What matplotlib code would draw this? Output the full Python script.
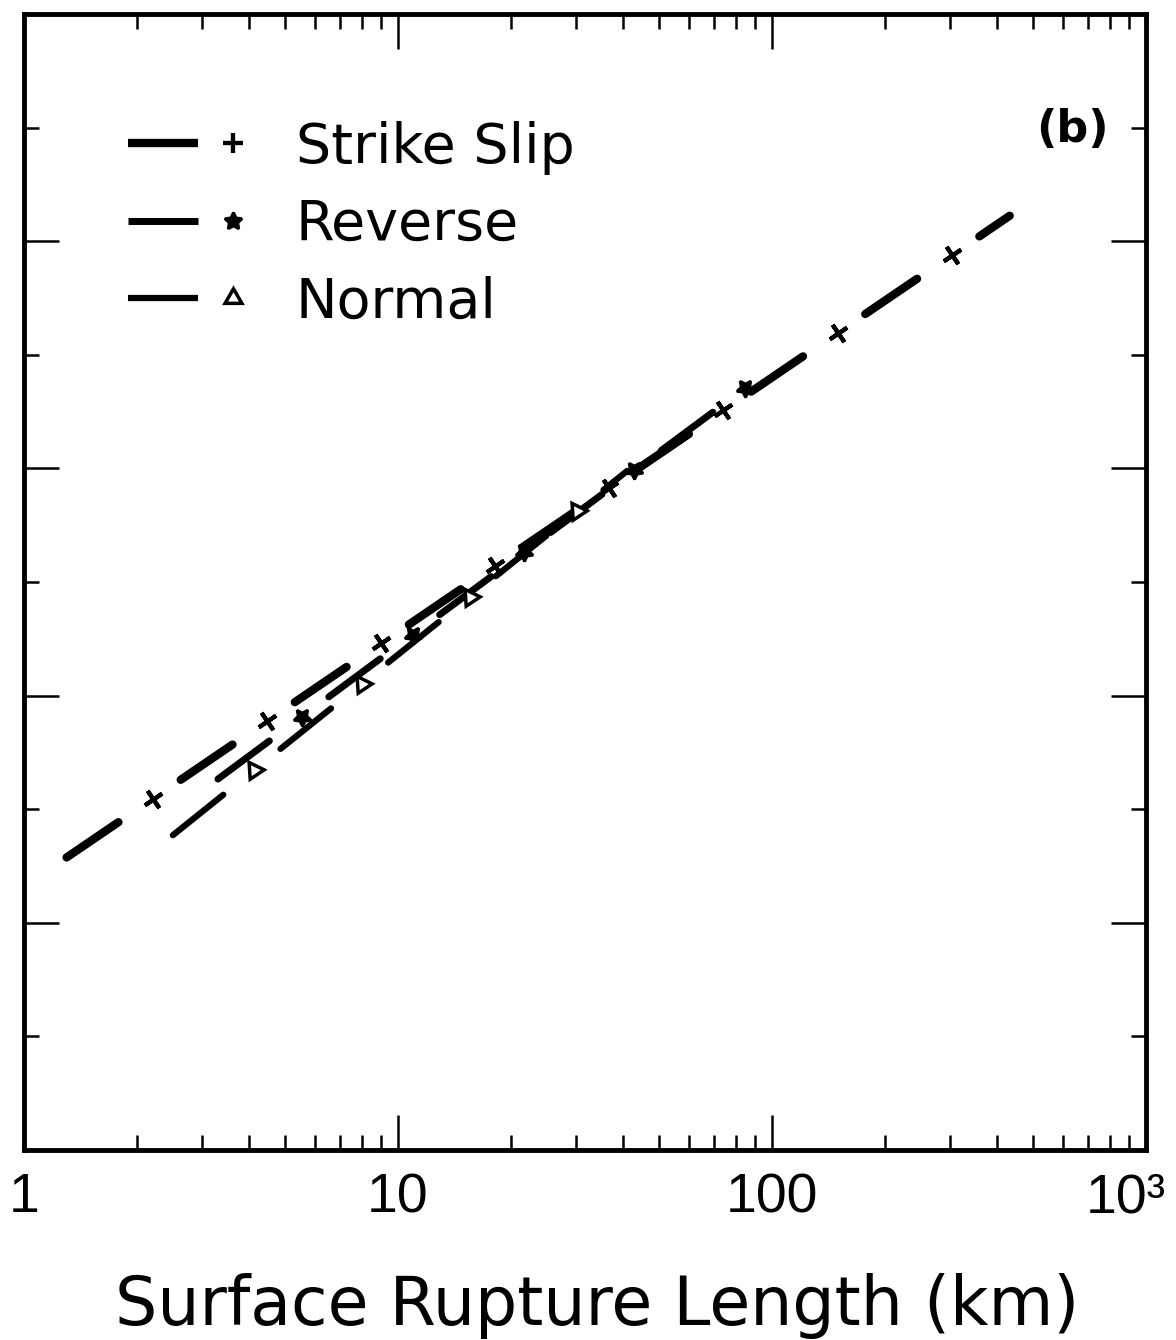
import numpy as np
import matplotlib
matplotlib.use("Agg")
import matplotlib.pyplot as plt
import matplotlib.transforms as mtransforms
from matplotlib.lines import Line2D
from matplotlib.legend_handler import HandlerTuple
from matplotlib.ticker import MultipleLocator, FixedLocator, FixedFormatter

# regression of magnitude on surface rupture length: M = a + b*log10(SRL)
slip_types = ["Strike Slip", "Reverse", "Normal"]
coef_a = [5.16, 5.00, 4.86]
coef_b = [1.12, 1.22, 1.32]
# range of rupture lengths (km) covered by each fit
srl_min = [1.3, 3.3, 2.5]
srl_max = [432, 85, 41]

xtick_vals = [1, 10, 100, 1000]
xtick_labels = ["1", "10", "100", "10³"]
mag_min, mag_max = 4, 9

DPI = 100
# dash pattern (pixels along the line), symbol sits in the middle of each gap
DASH_PX = 71
GAP_PX = 67

plt.rcParams['lines.scale_dashes'] = False
plt.rcParams['font.family'] = ['DejaVu Sans']

line_w = [6.0, 5.0, 4.5]
# marker shape (sides, style) -> rotated later along the line
mk_shape = [(4, 2), (5, 1), (3, 0)]
mk_size = [15, 13, 14]
mk_face = ['k', 'k', 'w']
mk_edgew = [3.0, 2.0, 2.5]
mk_rot_offset = [0, 0, -125]


def draw_fit(ax, i):
    a, b = coef_a[i], coef_b[i]
    lo, hi = srl_min[i], srl_max[i]
    xs = np.array([lo, hi])
    ys = a + b * np.log10(xs)
    lw = line_w[i]
    lw_px = lw * DPI / 72
    on = (DASH_PX - lw_px) * 72 / DPI
    off = (GAP_PX + lw_px) * 72 / DPI
    ax.plot(xs, ys, color='k', lw=lw, dashes=(on, off),
            dash_capstyle='round', zorder=2)

    # find where the gaps are (in screen pixels) and put the symbols there
    p = ax.transData.transform(np.column_stack([xs, ys]))
    d = p[1] - p[0]
    length = np.hypot(d[0], d[1])
    angle = np.degrees(np.arctan2(d[1], d[0]))
    s = np.arange(DASH_PX + GAP_PX / 2, length, DASH_PX + GAP_PX)
    lx = np.log10(lo) + s / length * (np.log10(hi) - np.log10(lo))
    xm = 10 ** lx
    ym = a + b * lx
    sides, style = mk_shape[i]
    ax.plot(xm, ym, ls='none',
            marker=(sides, style, angle + mk_rot_offset[i]),
            ms=mk_size[i], mfc=mk_face[i], mec='k', mew=mk_edgew[i], zorder=3)


fig, ax = plt.subplots(figsize=(11.76, 13.4), dpi=DPI)
fig.subplots_adjust(left=0.0204, right=0.9745, bottom=0.1418, top=0.9896)
ax.set_xscale('log')
ax.set_xlim(1, 1000)
ax.set_ylim(mag_min, mag_max)

for i in range(len(slip_types)):
    draw_fit(ax, i)

# legend: line segment followed by the symbol
handles = []
for i in range(len(slip_types)):
    ln = Line2D([], [], color='k', lw=line_w[i], solid_capstyle='butt')
    sides, style = mk_shape[i]
    mk = Line2D([], [], ls='none', marker=(sides, style, 0), ms=mk_size[i],
                mfc=mk_face[i], mec='k', mew=mk_edgew[i])
    handles.append((ln, mk))
ax.legend(handles, slip_types, handler_map={tuple: HandlerTuple(ndivide=None, pad=0)},
          loc='upper left', bbox_to_anchor=(0.0927, 0.906), frameon=False,
          borderpad=0, borderaxespad=0, fontsize=40, handlelength=2.52,
          handletextpad=0.5, labelspacing=0.42)

ax.text(0.934, 0.898, "(b)", transform=ax.transAxes, fontsize=32,
        fontweight='bold', ha='center', va='center')

# ticks
ax.xaxis.set_major_locator(FixedLocator(xtick_vals))
ax.xaxis.set_major_formatter(FixedFormatter(xtick_labels))
ax.yaxis.set_major_locator(MultipleLocator(1))
ax.yaxis.set_minor_locator(MultipleLocator(0.5))
ax.tick_params(which='major', direction='in', length=25, width=1.8,
               top=True, right=True, pad=16)
ax.tick_params(which='minor', direction='in', length=11, width=1.8,
               top=True, right=True)
ax.tick_params(axis='y', labelleft=False)
for lab in ax.get_xticklabels():
    lab.set_fontsize(40)
    lab.set_family(['Liberation Sans', 'DejaVu Sans'])
# last label sits a little to the right, as in the original
last = ax.get_xticklabels()[-1]
last.set_horizontalalignment('right')
last.set_transform(last.get_transform() +
                   mtransforms.ScaledTranslation(14 / 72, 0, fig.dpi_scale_trans))

for sp in ax.spines.values():
    sp.set_linewidth(3.5)

ax.set_xlabel("Surface Rupture Length (km)", fontsize=48)
ax.xaxis.set_label_coords(0.511, -0.108)

fig.savefig("out.png", dpi=DPI, facecolor='white')
